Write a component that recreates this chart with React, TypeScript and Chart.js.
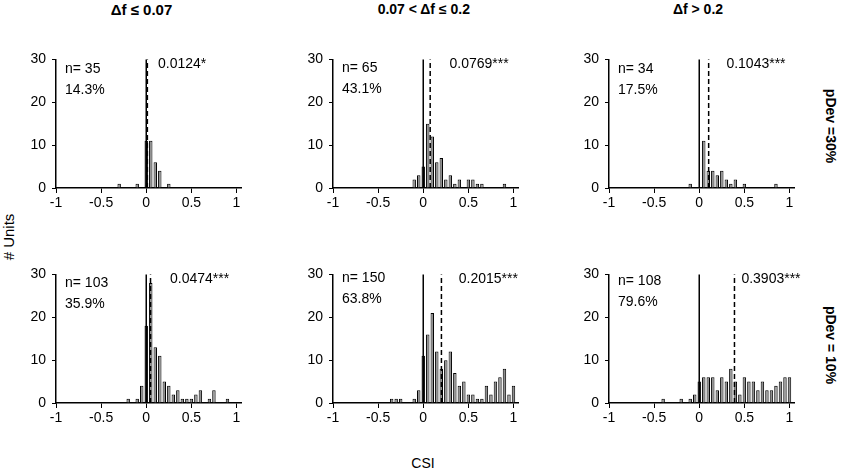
import { useEffect, useRef } from 'react';
import Chart from 'chart.js/auto';

const FONT = '"Liberation Sans", Arial, Helvetica, sans-serif';

const columnTitles = ['Δf ≤ 0.07', '0.07 < Δf ≤ 0.2', 'Δf > 0.2'];
const rowTitles = ['pDev =30%', 'pDev = 10%'];
const xTicks = [-1, -0.5, 0, 0.5, 1];
const yTicks = [0, 10, 20, 30];

// bin centres (CSI) and number of units per bin
const binsA = [-0.3, -0.1, 0, 0.05, 0.1, 0.15, 0.25];
const countsA = [1, 1, 11, 11, 6, 4, 1];

const binsB = [-0.1, -0.05, 0, 0.05, 0.1, 0.15, 0.2, 0.25, 0.3, 0.35, 0.4, 0.5, 0.55, 0.6, 0.65, 0.9];
const countsB = [2, 3, 5, 15, 12, 6, 7, 2, 3, 1, 2, 2, 2, 1, 1, 1];

const binsC = [-0.1, 0.05, 0.1, 0.15, 0.2, 0.25, 0.3, 0.35, 0.4, 0.5, 0.85];
const countsC = [1, 11, 4, 4, 3, 4, 2, 1, 2, 1, 1];

const binsD = [-0.2, -0.1, -0.05, 0, 0.05, 0.1, 0.15, 0.2, 0.25, 0.3, 0.35, 0.4, 0.45, 0.5, 0.55, 0.6, 0.7, 0.75, 0.9];
const countsD = [1, 1, 4, 18, 28, 13, 11, 5, 4, 2, 3, 1, 1, 1, 2, 3, 1, 3, 1];

const binsE = [-0.35, -0.3, -0.25, -0.1, -0.05, 0, 0.05, 0.1, 0.15, 0.2, 0.25, 0.3, 0.35, 0.4, 0.45, 0.5, 0.55, 0.6, 0.65, 0.7, 0.75, 0.8, 0.85, 0.9, 0.95, 1];
const countsE = [1, 1, 1, 1, 3, 11, 16, 21, 12, 8, 10, 12, 7, 4, 5, 2, 2, 1, 1, 4, 2, 5, 6, 8, 2, 4];

const binsF = [-0.4, -0.2, -0.1, -0.05, 0, 0.05, 0.1, 0.15, 0.2, 0.25, 0.3, 0.35, 0.4, 0.45, 0.5, 0.55, 0.6, 0.65, 0.7, 0.75, 0.8, 0.85, 0.9, 0.95, 1];
const countsF = [1, 1, 1, 2, 5, 6, 6, 6, 3, 6, 5, 8, 5, 2, 6, 5, 5, 3, 5, 3, 3, 4, 5, 6, 6];

const means = [0.0124, 0.0769, 0.1043, 0.0474, 0.2015, 0.3903];
const meanLabels = ['0.0124*', '0.0769***', '0.1043***', '0.0474***', '0.2015***', '0.3903***'];
const nLabels = ['n= 35', 'n= 65', 'n= 34', 'n= 103', 'n= 150', 'n= 108'];
const pctLabels = ['14.3%', '43.1%', '17.5%', '35.9%', '63.8%', '79.6%'];

const allBins = [binsA, binsB, binsC, binsD, binsE, binsF];
const allCounts = [countsA, countsB, countsC, countsD, countsE, countsF];

// layout of the plot areas (pixel position of x=-1 and y=30)
const colLeft = [56, 332.5, 609.3];
const rowTop = [56.7, 272];
const plotW = 185;
const plotH = 131;
const padL = 50;
const padT = 12;
const padR = 12;
const padB = 30;

const markerPlugin = {
  id: 'markers',
  afterDatasetsDraw(chart: any, _args: any, opts: any) {
    const { ctx, chartArea } = chart;
    const x = chart.scales.x;
    const y = chart.scales.y;
    const yTop = y.getPixelForValue(30);
    const yBot = y.getPixelForValue(0);
    ctx.save();
    ctx.strokeStyle = '#000';
    ctx.lineWidth = 1.5;
    const x0 = x.getPixelForValue(0);
    ctx.beginPath();
    ctx.moveTo(x0, yBot);
    ctx.lineTo(x0, yTop);
    ctx.stroke();
    const xm = x.getPixelForValue(opts.mean);
    ctx.setLineDash([5, 3]);
    ctx.beginPath();
    ctx.moveTo(xm, yBot);
    ctx.lineTo(xm, yTop);
    ctx.stroke();
    ctx.setLineDash([]);

    ctx.fillStyle = '#000';
    ctx.font = `14px ${FONT}`;
    ctx.textBaseline = 'middle';
    ctx.textAlign = 'left';
    ctx.fillText(opts.nLabel, chartArea.left + 9, yTop + opts.nDy);
    ctx.fillText(opts.pctLabel, chartArea.left + 9, yTop + opts.nDy + 21);
    ctx.fillText(opts.meanLabel, chartArea.left + opts.meanDx, yTop + 5);
    ctx.restore();
  },
};

const meanDx = [102, 116.5, 117.4, 114, 125.8, 132.4];
const nDy = [10, 9, 10, 9, 4, 7];

function Panel({ idx }: { idx: number }) {
  const canvasRef = useRef<HTMLCanvasElement>(null);

  useEffect(() => {
    if (!canvasRef.current) return;
    const ctx = canvasRef.current.getContext('2d');
    if (!ctx) return;
    const bins = allBins[idx];
    const counts = allCounts[idx];

    const tickStyle = { color: '#000', font: { family: FONT, size: 14 } };

    const chart = new Chart(ctx, {
      type: 'bar',
      data: {
        datasets: [
          {
            data: bins.map((b, i) => ({ x: b, y: counts[i] })),
            backgroundColor: bins.map((b) => (b === 0 ? '#000' : '#8f8f8f')),
            borderColor: '#000',
            borderWidth: 1,
            borderSkipped: 'bottom',
            categoryPercentage: 1,
            barPercentage: 0.76,
          },
        ],
      },
      options: {
        animation: false,
        responsive: true,
        maintainAspectRatio: false,
        layout: { padding: { top: padT, right: padR, left: 0, bottom: 0 } },
        plugins: {
          legend: { display: false },
          tooltip: { enabled: false },
          markers: {
            mean: means[idx],
            meanLabel: meanLabels[idx],
            nLabel: nLabels[idx],
            pctLabel: pctLabels[idx],
            meanDx: meanDx[idx],
            nDy: nDy[idx],
          },
        } as any,
        scales: {
          x: {
            type: 'linear',
            min: -1,
            max: 1.05,
            offset: false,
            grid: { display: true, drawOnChartArea: false, drawTicks: true, tickLength: 5, color: '#000', offset: false },
            border: { display: true, color: '#000', width: 1.5 },
            ticks: { ...tickStyle, padding: 2, maxRotation: 0, callback: (v: any) => String(v) },
            afterBuildTicks: (scale: any) => {
              scale.ticks = xTicks.map((v) => ({ value: v }));
            },
            afterFit: (scale: any) => {
              scale.height = padB;
            },
          },
          y: {
            min: 0,
            max: 30,
            grid: { display: true, drawOnChartArea: false, drawTicks: true, tickLength: 4, color: '#000' },
            border: { display: true, color: '#000', width: 1.5 },
            ticks: { ...tickStyle, padding: 6 },
            afterBuildTicks: (scale: any) => {
              scale.ticks = yTicks.map((v) => ({ value: v }));
            },
            afterFit: (scale: any) => {
              scale.width = padL;
            },
          },
        },
      },
      plugins: [markerPlugin],
    });

    return () => {
      chart.destroy();
    };
  }, [idx]);

  const col = idx % 3;
  const row = Math.floor(idx / 3);
  return (
    <div
      style={{
        position: 'absolute',
        left: colLeft[col] - padL,
        top: rowTop[row] - padT,
        width: padL + plotW + padR,
        height: padT + plotH + padB,
      }}
    >
      <canvas ref={canvasRef} />
    </div>
  );
}

const labelBase: React.CSSProperties = {
  position: 'absolute',
  fontFamily: FONT,
  fontSize: 14,
  color: '#000',
  whiteSpace: 'nowrap',
  lineHeight: 1,
};

export default function App() {
  const titleX = [141.5, 423.8, 698];
  const titleSize = [15, 14, 14];
  const rowY = [125.5, 345];
  return (
    <div
      style={{
        position: 'absolute',
        left: 0,
        top: 0,
        width: 843,
        height: 471,
        background: '#fff',
        overflow: 'hidden',
      }}
    >
      {columnTitles.map((t, i) => (
        <div
          key={t}
          style={{
            ...labelBase,
            fontWeight: 'bold',
            fontSize: titleSize[i],
            left: titleX[i],
            top: 9,
            transform: 'translate(-50%, -50%)',
          }}
        >
          {t}
        </div>
      ))}
      {rowTitles.map((t, i) => (
        <div
          key={t}
          style={{
            ...labelBase,
            fontWeight: 'bold',
            left: 831,
            top: rowY[i],
            transform: 'translate(-50%, -50%) rotate(90deg)',
          }}
        >
          {t}
        </div>
      ))}
      <div style={{ ...labelBase, fontSize: 15, left: 8, top: 237, transform: 'translate(-50%, -50%) rotate(-90deg)' }}>
        # Units
      </div>
      <div style={{ ...labelBase, left: 423, top: 463, transform: 'translate(-50%, -50%)' }}>CSI</div>
      {[0, 1, 2, 3, 4, 5].map((i) => (
        <Panel key={i} idx={i} />
      ))}
    </div>
  );
}
